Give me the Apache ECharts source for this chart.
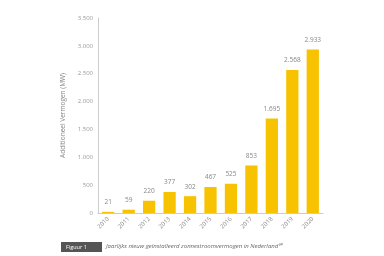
<!DOCTYPE html>
<html><head><meta charset="utf-8">
<script src="https://cdn.jsdelivr.net/npm/echarts@6/dist/echarts.min.js"></script>
<style>html,body{margin:0;padding:0;background:#fff}#c{width:384px;height:256px}</style>
</head><body><div id="c"></div>
<script>
const years = ['2010','2011','2012','2013','2014','2015','2016','2017','2018','2019','2020'];
const values = [21, 59, 220, 377, 302, 467, 525, 853, 1695, 2568, 2933];
const yTicks = [0, 500, 1000, 1500, 2000, 2500, 3000, 3500];
const yTitle = 'Additioneel Vermogen (MW)';
const captionTag = 'Figuur 1';
const captionText = 'Jaarlijks nieuw geïnstalleerd zonnestroomvermogen in Nederland³⁴';

const fmt = v => String(v).replace(/\B(?=(\d{3})+(?!\d))/g, '.');
const chart = echarts.init(document.getElementById('c'));
chart.setOption({
  animation: false,
  textStyle: {fontFamily: 'Open Sans'},
  grid: {left: 98, right: 61, top: 18, bottom: 43},
  xAxis: {
    type: 'category', data: years,
    axisLine: {lineStyle: {color: '#ccc'}},
    axisTick: {show: false},
    axisLabel: {rotate: 45, fontSize: 6, color: '#888', margin: 5}
  },
  yAxis: {
    type: 'value', min: yTicks[0], max: yTicks[yTicks.length - 1], interval: 500,
    name: yTitle, nameLocation: 'middle', nameGap: 28, nameRotate: 90,
    nameTextStyle: {fontSize: 6.5, color: '#888'},
    axisLine: {show: true, lineStyle: {color: '#ccc'}},
    axisTick: {show: false},
    splitLine: {show: false},
    axisLabel: {fontSize: 6, color: '#999', margin: 5, formatter: fmt}
  },
  series: [{
    type: 'bar', data: values, barWidth: '60%',
    itemStyle: {color: '#F7C300'},
    label: {show: true, position: 'top', fontSize: 6.5, color: '#888', distance: 6, formatter: p => fmt(p.value)}
  }],
  graphic: [
    {type: 'rect', left: 61, top: 242, shape: {width: 41, height: 10}, style: {fill: '#555'}},
    {type: 'text', left: 66, top: 244, style: {text: captionTag, fill: '#fff', font: '5.5px "Open Sans"'}},
    {type: 'text', left: 106, top: 243.5, style: {text: captionText, fill: '#666', font: 'italic 6px "Open Sans"'}}
  ]
});
</script></body></html>
